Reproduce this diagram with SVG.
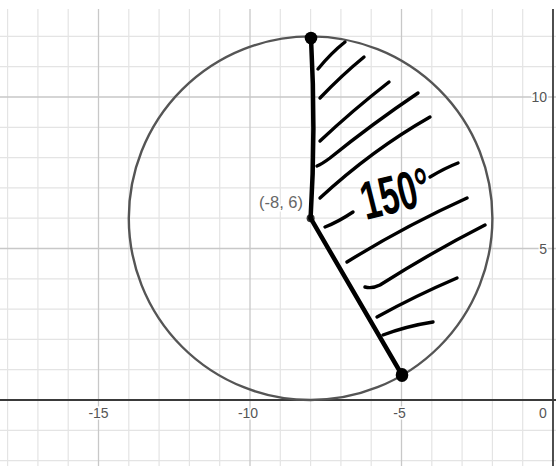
<svg xmlns="http://www.w3.org/2000/svg" width="556" height="466" viewBox="0 0 556 466">
<style>
.minor{stroke:#e4e4e4;stroke-width:1.2;fill:none}
.major{stroke:#c8c8c8;stroke-width:1.3;fill:none}
.axis{stroke:#3a3a3a;stroke-width:1.8;fill:none}
.lbl{font-family:"Liberation Sans",Arial,sans-serif;font-size:14px;fill:#555;stroke:#fff;stroke-width:3;paint-order:stroke}
.hatch{stroke:#000;stroke-width:3.4;fill:none;stroke-linecap:round;stroke-linejoin:round}
.thick{stroke:#000;stroke-width:4.5;fill:none;stroke-linecap:round}
</style>
<rect width="556" height="466" fill="#fff"/>
<g id="grid">
<g class="minor">
<path d="M7.6 9V466M37.9 9V466M68.2 9V466M128.8 9V466M159.1 9V466M189.4 9V466M219.7 9V466M280.3 9V466M310.6 9V466M340.9 9V466M371.2 9V466M431.8 9V466M462.1 9V466M492.4 9V466M522.7 9V466"/>
<path d="M0 36.4H556M0 66.7H556M0 127.3H556M0 157.6H556M0 187.9H556M0 218.2H556M0 278.8H556M0 309.1H556M0 339.4H556M0 369.7H556M0 430.3H556M0 460.6H556"/>
</g>
<g class="major">
<path d="M98.5 9V466M250 9V466M401.5 9V466"/>
<path d="M0 97H556M0 248.5H556"/>
</g>
<g class="axis">
<path d="M0 400H556"/>
<path d="M553 9V466"/>
</g>
</g>
<g id="axis-labels">
<text class="lbl" x="98.5" y="418" text-anchor="middle">-15</text>
<text class="lbl" x="248" y="418" text-anchor="middle">-10</text>
<text class="lbl" x="399.5" y="418" text-anchor="middle">-5</text>
<text class="lbl" x="543" y="418" text-anchor="middle">0</text>
<text class="lbl" x="547" y="102" text-anchor="end">10</text>
<text class="lbl" x="547" y="254" text-anchor="end">5</text>
</g>
<g id="circle">
<circle cx="310.6" cy="218.2" r="181.8" fill="none" stroke="#555" stroke-width="2.4"/>
</g>
<g id="center">
<circle cx="310.6" cy="218.2" r="4" fill="#333"/>
<text class="lbl" x="303" y="208" text-anchor="end" style="font-size:16.5px;fill:#666">(-8, 6)</text>
</g>
<g id="connectors">
<path class="thick" d="M311 38Q316 130 310.6 218.2"/>
<path class="thick" d="M310.6 218.2L402 375"/>
</g>
<g id="point-top"><circle cx="311" cy="38" r="6.3" fill="#000"/></g>
<g id="point-bottom"><ellipse cx="402" cy="375" rx="6.3" ry="7" fill="#000"/></g>
<g id="hatching">
<path class="hatch" d="M318 69Q331 53 345 42"/>
<path class="hatch" d="M320 98Q342 75 364 57"/>
<path class="hatch" d="M320 141Q353 110 389 82"/>
<path class="hatch" d="M317 166Q322 164 330 158Q372 124 418 93"/>
<path class="hatch" d="M320 198Q372 150 430 117"/>
<path class="hatch" d="M325 227Q338 222 353 212"/>
<path class="hatch" d="M430 177Q445 168 458 163"/>
<path class="hatch" d="M347 262Q405 226 467 198"/>
<path class="hatch" d="M365 287Q372 289 380 285Q432 252 485 225"/>
<path class="hatch" d="M377 317Q415 296 457 278"/>
<path class="hatch" d="M383 335Q407 326 433 322"/>
</g>
<g id="angle-label">
<text x="366" y="220" transform="rotate(-14 366 220)" textLength="70" lengthAdjust="spacingAndGlyphs" style="font-family:'Liberation Sans',Arial,sans-serif;font-weight:bold;font-size:54px;fill:#000">150°</text>
</g>
</svg>
